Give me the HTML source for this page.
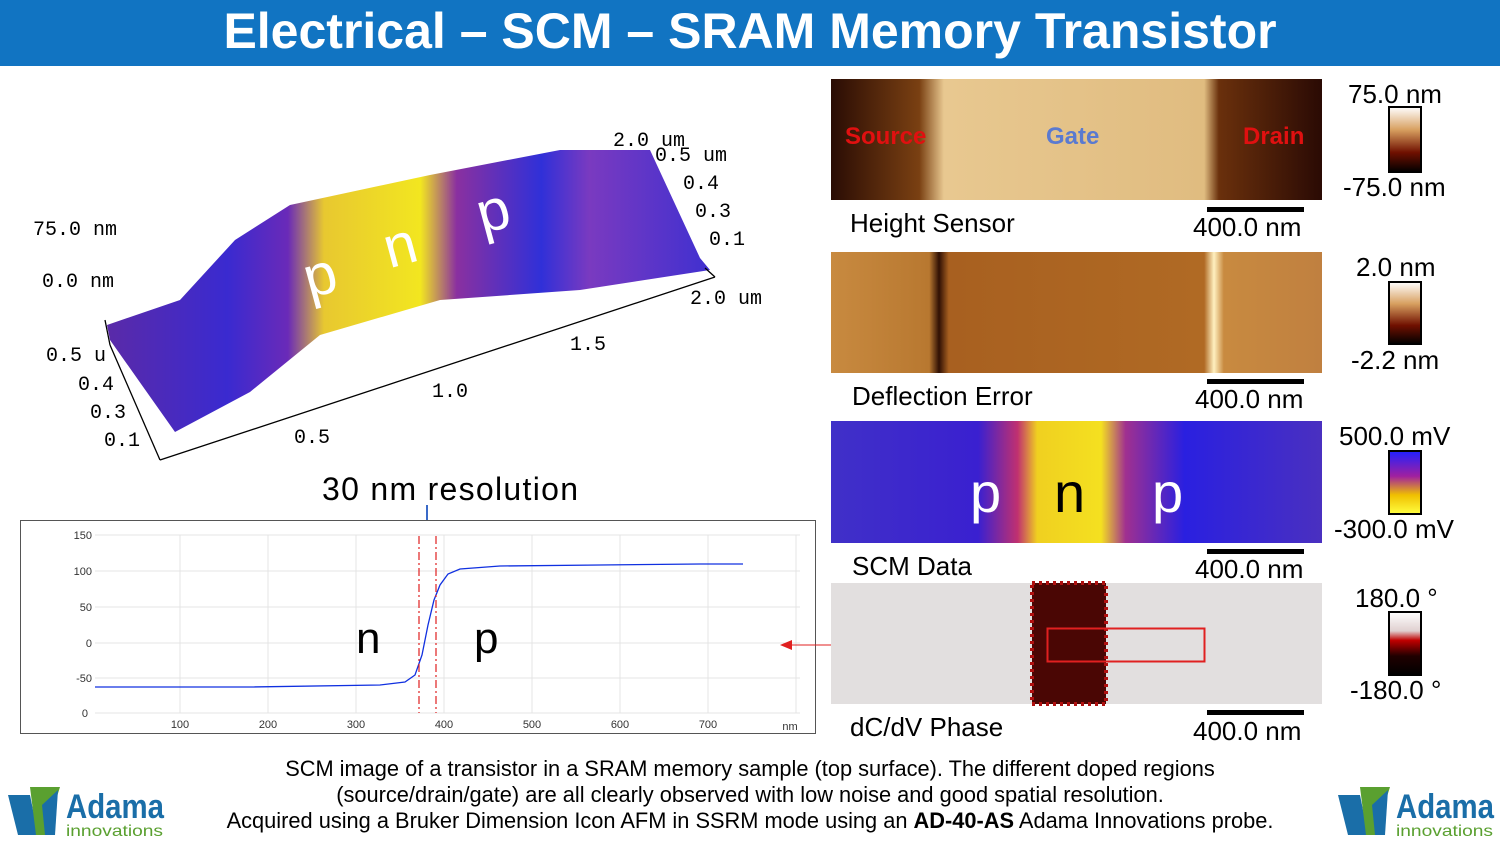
<!DOCTYPE html>
<html><head><meta charset="utf-8"><style>
body{margin:0;width:1500px;height:842px;overflow:hidden;background:#fff;font-family:"Liberation Sans",sans-serif;position:relative}
.hdr{position:absolute;left:0;top:0;width:1500px;height:66px;background:#1174c2;color:#fff;font-weight:bold;font-size:50px;text-align:center;line-height:62px}
.cap{position:absolute;left:100px;width:1300px;text-align:center;font-size:21.8px;color:#000;line-height:26px;top:756px}
</style></head><body>
<div class="hdr">Electrical – SCM – SRAM Memory Transistor</div>
<svg width="1500" height="842" style="position:absolute;left:0;top:0">
<defs>
<linearGradient id="g3d" x1="107" x2="710" y1="0" y2="0" gradientUnits="userSpaceOnUse">
<stop offset="0" stop-color="#5a2aa8"/><stop offset="0.2" stop-color="#3a2ad0"/><stop offset="0.3" stop-color="#6a2ab8"/><stop offset="0.36" stop-color="#e8c830"/><stop offset="0.52" stop-color="#f2e620"/><stop offset="0.58" stop-color="#8a30a0"/><stop offset="0.72" stop-color="#3030d8"/><stop offset="0.8" stop-color="#7a3ac0"/><stop offset="1" stop-color="#4030d0"/></linearGradient>
<linearGradient id="ght" x1="0" x2="1"><stop offset="0" stop-color="#2a0c04"/><stop offset="0.18" stop-color="#7a4012"/><stop offset="0.23" stop-color="#e8c890"/><stop offset="0.76" stop-color="#e0bc80"/><stop offset="0.79" stop-color="#6a300c"/><stop offset="1" stop-color="#2a0a04"/></linearGradient>
<linearGradient id="gde" x1="0" x2="1"><stop offset="0" stop-color="#c88a40"/><stop offset="0.2" stop-color="#b87830"/><stop offset="0.22" stop-color="#301004"/><stop offset="0.24" stop-color="#a86020"/><stop offset="0.76" stop-color="#b06a24"/><stop offset="0.78" stop-color="#fff0c0"/><stop offset="0.8" stop-color="#c88a40"/><stop offset="1" stop-color="#c08040"/></linearGradient>
<linearGradient id="gscm" x1="0" x2="1"><stop offset="0" stop-color="#4030c8"/><stop offset="0.3" stop-color="#3a20d0"/><stop offset="0.38" stop-color="#c03070"/><stop offset="0.42" stop-color="#f0d020"/><stop offset="0.55" stop-color="#f4e020"/><stop offset="0.6" stop-color="#a03090"/><stop offset="0.72" stop-color="#2a20e0"/><stop offset="1" stop-color="#4a30c0"/></linearGradient>
<linearGradient id="cb1" x1="0" y1="0" x2="0" y2="1"><stop offset="0" stop-color="#fff"/><stop offset="0.35" stop-color="#d8a060"/><stop offset="0.7" stop-color="#701000"/><stop offset="1" stop-color="#000"/></linearGradient>
<linearGradient id="cb3" x1="0" y1="0" x2="0" y2="1"><stop offset="0" stop-color="#2020ff"/><stop offset="0.4" stop-color="#a020a0"/><stop offset="0.7" stop-color="#f0c000"/><stop offset="1" stop-color="#ffff40"/></linearGradient>
<linearGradient id="cb4" x1="0" y1="0" x2="0" y2="1"><stop offset="0" stop-color="#fff"/><stop offset="0.3" stop-color="#e0d0d0"/><stop offset="0.45" stop-color="#c00000"/><stop offset="0.7" stop-color="#200000"/><stop offset="1" stop-color="#000"/></linearGradient>
</defs>
<polygon points="107,325 180,300 235,240 290,205 430,175 560,150 650,150 700,258 710,270 580,290 440,300 320,335 250,392 175,432 110,340" fill="url(#g3d)"/>
<g fill="none" stroke="#000" stroke-width="1.3">
<line x1="105" y1="320" x2="110" y2="345"/><line x1="110" y1="345" x2="160" y2="460"/><line x1="160" y1="460" x2="715" y2="277"/><line x1="705" y1="268" x2="715" y2="277"/>
</g>
<g font-family="Liberation Mono,monospace" font-size="20" fill="#000">
<text x="33" y="235">75.0 nm</text><text x="42" y="287">0.0 nm</text><text x="46" y="361">0.5 u</text><text x="78" y="390">0.4</text><text x="90" y="418">0.3</text><text x="104" y="446">0.1</text>
<text x="294" y="443">0.5</text><text x="432" y="397">1.0</text><text x="570" y="350">1.5</text><text x="690" y="304">2.0 um</text>
<text x="613" y="146">2.0 um</text><text x="655" y="161">0.5 um</text><text x="683" y="189">0.4</text><text x="695" y="217">0.3</text><text x="709" y="245">0.1</text>
</g>
<g font-size="58" fill="#fff"><text x="305" y="295" transform="rotate(-15 320 280)">p</text><text x="385" y="265" transform="rotate(-15 400 250)">n</text><text x="478" y="230" transform="rotate(-15 495 215)">p</text></g>
<text x="322" y="500" font-size="32" textLength="256" font-family="Liberation Sans,sans-serif">30 nm resolution</text>
<line x1="427" y1="505" x2="427" y2="530" stroke="#3a6ac8" stroke-width="2"/><polygon points="422,528 432,528 427,536" fill="#3a6ac8"/>
<rect x="20.5" y="520.5" width="795" height="213" fill="#fff" stroke="#555"/>
<g stroke="#e4e4e4"><line x1="180" y1="535" x2="180" y2="713"/><line x1="268" y1="535" x2="268" y2="713"/><line x1="356" y1="535" x2="356" y2="713"/><line x1="444" y1="535" x2="444" y2="713"/><line x1="532" y1="535" x2="532" y2="713"/><line x1="620" y1="535" x2="620" y2="713"/><line x1="708" y1="535" x2="708" y2="713"/><line x1="796" y1="535" x2="796" y2="713"/>
<line x1="95" y1="535" x2="800" y2="535"/><line x1="95" y1="571" x2="800" y2="571"/><line x1="95" y1="607" x2="800" y2="607"/><line x1="95" y1="643" x2="800" y2="643"/><line x1="95" y1="678" x2="800" y2="678"/><line x1="95" y1="713" x2="800" y2="713"/></g>
<g font-size="11" fill="#333" text-anchor="end"><text x="92" y="539">150</text><text x="92" y="575">100</text><text x="92" y="611">50</text><text x="92" y="647">0</text><text x="92" y="682">-50</text><text x="88" y="717">0</text></g>
<g font-size="11" fill="#333" text-anchor="middle"><text x="180" y="728">100</text><text x="268" y="728">200</text><text x="356" y="728">300</text><text x="444" y="728">400</text><text x="532" y="728">500</text><text x="620" y="728">600</text><text x="708" y="728">700</text><text x="790" y="730">nm</text></g>
<polyline fill="none" stroke="#1030e0" stroke-width="1.3" points="95,687 250,687 380,685 405,682 415,675 422,655 428,625 434,600 440,585 448,574 460,569 500,566 600,565 700,564 743,564"/>
<g stroke="#e02020" stroke-dasharray="8,3,2,3" stroke-width="1.2"><line x1="419" y1="536" x2="419" y2="713"/><line x1="436" y1="536" x2="436" y2="713"/></g>
<text x="356" y="653" font-size="44">n</text><text x="474" y="653" font-size="44">p</text>
<line x1="788" y1="645" x2="1047" y2="645" stroke="#e02020"/><polygon points="780,645 792,640 792,650" fill="#e02020"/>
<rect x="831" y="79" width="491" height="121" fill="url(#ght)"/>
<text x="845" y="144" font-size="24" font-weight="bold" fill="#e01010">Source</text><text x="1046" y="144" font-size="24" font-weight="bold" fill="#5a7ad0">Gate</text><text x="1243" y="144" font-size="24" font-weight="bold" fill="#e01010">Drain</text>
<rect x="831" y="252" width="491" height="121" fill="url(#gde)"/>
<rect x="831" y="421" width="491" height="122" fill="url(#gscm)"/>
<text x="970" y="512" font-size="56" fill="#fff">p</text><text x="1054" y="512" font-size="56" fill="#000">n</text><text x="1152" y="512" font-size="56" fill="#fff">p</text>
<rect x="831" y="583" width="491" height="121" fill="#e2dfdf"/>
<rect x="1032" y="583" width="74" height="121" fill="#4a0604"/>
<rect x="1032" y="583" width="74" height="121" fill="none" stroke="#b01010" stroke-width="4" stroke-dasharray="3,4"/>
<rect x="1047.5" y="628.5" width="157" height="33" fill="none" stroke="#e02020" stroke-width="2"/>
<g font-size="26" fill="#000"><text x="850" y="232">Height Sensor</text><text x="852" y="405">Deflection Error</text><text x="852" y="575">SCM Data</text><text x="850" y="736">dC/dV Phase</text>
<text x="1193" y="236">400.0 nm</text><text x="1195" y="408">400.0 nm</text><text x="1195" y="578">400.0 nm</text><text x="1193" y="740">400.0 nm</text></g>
<g fill="#000"><rect x="1207" y="207" width="97" height="5"/><rect x="1207" y="379" width="97" height="5"/><rect x="1207" y="549" width="97" height="5"/><rect x="1207" y="710" width="97" height="5"/></g>
<rect x="1389" y="107" width="32" height="65" fill="url(#cb1)" stroke="#000" stroke-width="2"/>
<rect x="1389" y="282" width="32" height="62" fill="url(#cb1)" stroke="#000" stroke-width="2"/>
<rect x="1389" y="451" width="32" height="63" fill="url(#cb3)" stroke="#000" stroke-width="2"/>
<rect x="1389" y="612" width="32" height="63" fill="url(#cb4)" stroke="#000" stroke-width="2"/>
<g font-size="26" fill="#000"><text x="1348" y="103">75.0 nm</text><text x="1343" y="196">-75.0 nm</text><text x="1356" y="276">2.0 nm</text><text x="1351" y="369">-2.2 nm</text><text x="1339" y="445">500.0 mV</text><text x="1334" y="538">-300.0 mV</text><text x="1355" y="607">180.0 °</text><text x="1350" y="699">-180.0 °</text></g>
<g><polygon points="8,795 30,795 38,835 18,835" fill="#1a6ea8"/><polygon points="30,787 60,787 45,835 36,835" fill="#5aa030"/><polygon points="42,805 58,790 55,835 45,835" fill="#1a6ea8"/>
<text x="66" y="818" font-size="34" fill="#1a6ea8" font-weight="bold" textLength="98" lengthAdjust="spacingAndGlyphs">Adama</text><text x="66" y="836" font-size="16" fill="#5aa030" textLength="97" lengthAdjust="spacingAndGlyphs">innovations</text></g>
<g transform="translate(1330,0)"><polygon points="8,795 30,795 38,835 18,835" fill="#1a6ea8"/><polygon points="30,787 60,787 45,835 36,835" fill="#5aa030"/><polygon points="42,805 58,790 55,835 45,835" fill="#1a6ea8"/>
<text x="66" y="818" font-size="34" fill="#1a6ea8" font-weight="bold" textLength="98" lengthAdjust="spacingAndGlyphs">Adama</text><text x="66" y="836" font-size="16" fill="#5aa030" textLength="97" lengthAdjust="spacingAndGlyphs">innovations</text></g>
</svg>
<div class="cap">SCM image of a transistor in a SRAM memory sample (top surface). The different doped regions<br>(source/drain/gate) are all clearly observed with low noise and good spatial resolution.<br>Acquired using a Bruker Dimension Icon AFM in SSRM mode using an <b>AD-40-AS</b> Adama Innovations probe.</div>
</body></html>
